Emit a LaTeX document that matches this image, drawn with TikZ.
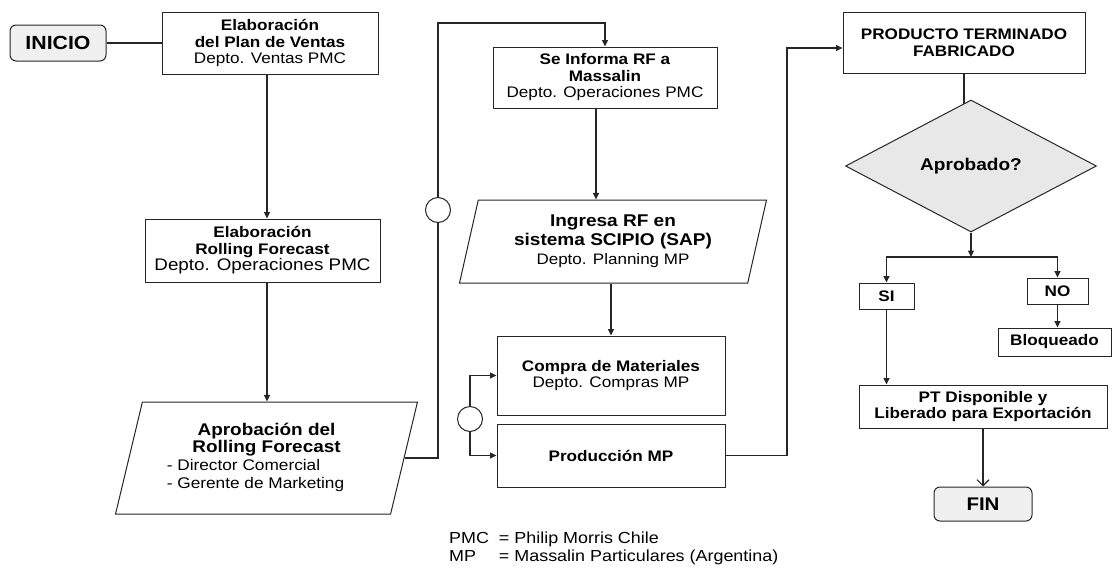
\documentclass[tikz,border=0pt]{standalone}
\usepackage{fontspec}
\setmainfont{Liberation Sans}[FakeStretch=1.12]
\usetikzlibrary{shapes.geometric,arrows.meta}
\pgfdeclarelayer{bg}
\pgfsetlayers{bg,main}
\newcommand\fsz[2]{\fontsize{#1}{#2}\selectfont}
\begin{document}
\begin{tikzpicture}[x=1pt,y=-1pt,
  box/.style={draw=black!85, fill=white, line width=1pt, inner sep=2pt, align=center, font=\fsz{15.3}{16.5}},
  term/.style={box, rounded corners=6pt, fill=gray!12, font=\fsz{19}{20}\bfseries},
  para/.style={box, trapezium, trapezium stretches=true},
  conn/.style={draw=black!85, line width=1.1pt},
  arr/.style={conn, -{Triangle[length=6.5pt,width=6pt]}},
  oarr/.style={conn, -{Straight Barb[length=6pt,width=12pt]}},
  junc/.style={circle, draw=black!85, fill=white, line width=1pt, minimum size=25, inner sep=0pt}
]
\useasboundingbox (0,0) rectangle (1113,568);

% nodes
\node[term, minimum width=96, minimum height=36] (inicio) at (58,43) {INICIO};
\node[box, minimum width=216, minimum height=62] (b1) at (270,43)
  {\textbf{Elaboración}\\\textbf{del Plan de Ventas}\\Depto. Ventas PMC};
\node[box, minimum width=235, minimum height=63] (b2) at (262.5,250.5)
  {\textbf{Elaboración}\\\textbf{Rolling Forecast}\\{\fsz{16.8}{16.5}Depto. Operaciones PMC}};
\node[para, minimum width=303, minimum height=112, trapezium left angle=73.6, trapezium right angle=106.4, font=\fsz{16.9}{17.7}] (p1) at (266.5,458)
  {\begin{tabular}{@{}l@{}}
   \multicolumn{1}{@{}c@{}}{\bfseries Aprobación del}\\
   \multicolumn{1}{@{}c@{}}{\bfseries Rolling Forecast}\\
   {\fsz{15.4}{17.7}- Director Comercial}\\
   {\fsz{15.4}{17.7}- Gerente de Marketing\hspace*{22pt}}
   \end{tabular}};
\node[box, minimum width=224, minimum height=61] (b3) at (605,77.5)
  {\textbf{Se Informa RF a}\\\textbf{Massalin}\\Depto. Operaciones PMC};
\node[para, minimum width=308, minimum height=83, trapezium left angle=76.1, trapezium right angle=103.9, font=\fsz{17}{19}] (p2) at (613,241.5)
  {\textbf{Ingresa RF en}\\\textbf{sistema SCIPIO (SAP)}\\{\fsz{15.2}{16}Depto. Planning MP}};
\node[box, minimum width=228, minimum height=79] (b4) at (611,375.5)
  {\textbf{Compra de Materiales}\\Depto. Compras MP};
\node[box, minimum width=228, minimum height=63] (b5) at (611,455.5) {\textbf{Producción MP}};
\node[junc] (c1) at (438,210) {};
\node[junc] (c2) at (470,419) {};
\node[box, minimum width=242, minimum height=61, font=\fsz{15.3}{16.5}\bfseries] (b6) at (964,42.5)
  {PRODUCTO TERMINADO\\FABRICADO};
\node[diamond, draw=black!85, fill=gray!18, line width=1pt, aspect=1.9, minimum width=251, minimum height=132, inner sep=0pt, font=\fsz{17}{18}\bfseries] (dia) at (971,166) {Aprobado?};
\node[box, minimum width=55, minimum height=26, font=\fsz{15.3}{16}\bfseries] (si) at (886.5,296) {SI};
\node[box, minimum width=61, minimum height=26, font=\fsz{15.3}{16}\bfseries] (no) at (1057.5,291) {NO};
\node[box, minimum width=113, minimum height=28, font=\fsz{15.3}{16}\bfseries] (bloq) at (1054.5,342) {Bloqueado};
\node[box, minimum width=248, minimum height=43, font=\fsz{15.3}{16.5}\bfseries] (pt) at (983,406.5)
  {PT Disponible y\\Liberado para Exportación};
\node[term, minimum width=98, minimum height=34, font=\fsz{18.3}{19}\bfseries] (fin) at (983,504) {FIN};
\node[anchor=west, inner sep=0pt, font=\fsz{16}{18}] (leg) at (449,549)
  {\begin{tabular}{@{}l@{\ \ }l@{}}PMC & = Philip Morris Chile\\ MP & = Massalin Particulares (Argentina)\end{tabular}};

% coordinates
\coordinate (t1) at (438,23);
\coordinate (t2) at (787,48);
\coordinate (f) at (971,257);

% connectors
\draw[conn] (inicio.east) -- (b1.west);
\draw[arr] ([xshift=-3pt]b1.south) -- ([xshift=-3pt]b1.south |- b2.north);
\draw[arr] ([xshift=4.5pt]b2.south) -- ([xshift=4.5pt]b2.south |- p1.north);
\draw[conn] (p1.east) -| (c1.south);
\draw[arr] (c1.north) -- (t1) -| (b3.north);
\draw[arr] ([xshift=-9pt]b3.south) -- ([xshift=-9pt]b3.south |- p2.north);
\draw[arr] (p2.south -| b4.north) -- (b4.north);
\draw[arr] (c2.north) |- (b4.west);
\draw[arr] (c2.south) |- (b5.west);
\draw[arr] (b5.east) -| (t2) -- (t2 -| b6.west);
\begin{pgfonlayer}{bg}
\draw[conn] (b6.south) -- (b6.south |- dia.center);
\end{pgfonlayer}
\draw[arr] (dia.south) -- (f);
\draw[arr] (f) -| (si.north);
\draw[arr] (f) -| (no.north);
\draw[arr] (no.south) -- (no.south |- bloq.north);
\draw[arr] (si.south) -- (si.south |- pt.north);
\draw[oarr] (pt.south) -- (fin.north);
\end{tikzpicture}
\end{document}
